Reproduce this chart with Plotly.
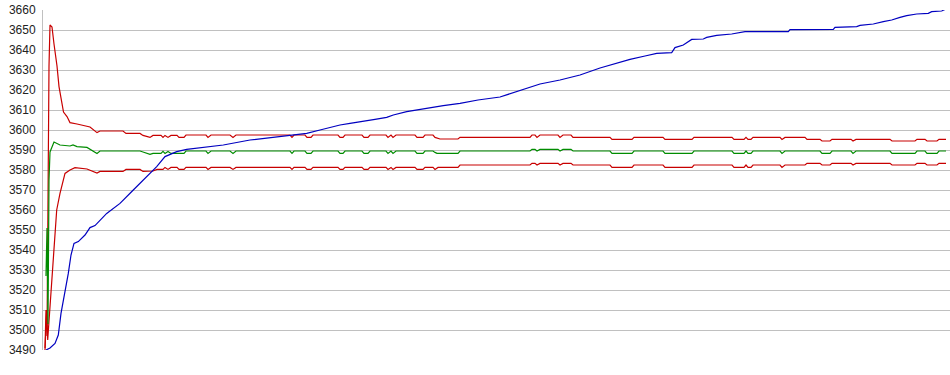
import plotly.graph_objects as go

# time-step index (sample) and values
upper_band = [(45,3491),(46,3510),(47,3497),(48,3600),(49,3632),(50,3652.5),(52,3651.5),(54,3643),(57,3632),(59,3621.7),(62,3611.7),(63.5,3609),(67,3606.7),(70,3603.7),(77,3603),(87,3602),(90,3601.5),(97,3598.7),(100,3599.5),(123,3599.5),(126,3598.3),(140,3598.3),(143,3597.3),(150,3596.3),(153,3597.3),(161,3597.3),(163,3596.3),(165,3597.3),(168,3596.3),(171,3597.3),(177,3597.3),(179,3596.3),(184,3596.3),(186,3597.5),(206,3597.5),(208,3596.3),(211,3597.5),(230,3597.5),(233,3596.3),(236,3597.5),(290,3597.5),(292,3596.3),(294,3597.5),(305,3597.5),(307,3596.3),(311,3596.3),(313,3597.5),(338,3597.5),(340,3596.3),(343,3596.3),(345,3597.5),(362,3597.5),(364,3596.3),(368,3596.3),(370,3597.5),(386,3597.5),(388,3596.3),(391,3597.5),(393,3596.3),(396,3597.5),(415,3597.5),(417,3596.3),(423,3596.3),(425,3597.5),(433,3597.5),(435,3596.3),(440,3595.5),(458,3595.5),(460,3596.3),(530,3596.3),(532,3597.5),(535,3597.5),(537,3596.3),(540,3597.5),(558,3597.5),(560,3596.3),(563,3597.5),(571,3597.5),(573,3596.3),(610,3596.3),(612,3595.3),(632,3595.3),(634,3596.3),(663,3596.3),(665,3595.3),(692,3595.3),(694,3596.3),(732,3596.3),(734,3595.3),(744,3595.3),(746,3596.3),(748,3595.3),(751,3595.3),(753,3596.3),(780,3596.3),(782,3595.3),(785,3596.3),(805,3596.3),(807,3595.3),(820,3595.3),(822,3594.5),(830,3594.5),(832,3595.3),(851,3595.3),(853,3594.5),(856,3595.3),(890,3595.3),(892,3594.5),(915,3594.5),(917,3595.3),(925,3595.3),(927,3594.5),(937,3594.5),(939,3595.3),(946,3595.3)]

middle_line = [(46,3527),(47,3551),(48,3503),(49,3575),(50,3589),(52,3592),(54,3594),(60,3592.5),(70,3592),(73,3592.5),(77,3591.7),(87,3591.3),(97,3588.3),(100,3589.5),(140,3589.5),(143,3589),(150,3587.8),(153,3588.3),(161,3588.3),(163,3589.3),(165,3588.3),(168,3589.3),(171,3588.3),(179,3588.3),(184,3588.3),(186,3589.5),(206,3589.5),(208,3588.3),(211,3589.5),(230,3589.5),(233,3588.3),(236,3589.5),(290,3589.5),(292,3588.3),(294,3589.5),(305,3589.5),(307,3588.3),(311,3588.3),(313,3589.5),(338,3589.5),(340,3588.3),(343,3588.3),(345,3589.5),(362,3589.5),(364,3588.3),(368,3588.3),(370,3589.5),(386,3589.5),(388,3588.3),(391,3589.5),(393,3588.3),(396,3589.5),(415,3589.5),(417,3588.3),(423,3588.3),(425,3589.5),(433,3589.5),(435,3588.8),(437,3588.3),(458,3588.3),(460,3589.5),(530,3589.5),(532,3590.3),(535,3590.3),(537,3589.5),(540,3590.3),(558,3590.3),(560,3589.5),(563,3590.3),(571,3590.3),(573,3589.5),(610,3589.5),(612,3588.3),(632,3588.3),(634,3589.5),(663,3589.5),(665,3588.3),(692,3588.3),(694,3589.5),(732,3589.5),(734,3588.3),(744,3588.3),(746,3589.5),(748,3588.3),(751,3588.3),(753,3589.5),(780,3589.5),(782,3588.3),(785,3589.5),(820,3589.5),(822,3588.3),(830,3588.3),(832,3589.5),(851,3589.5),(853,3588.3),(856,3589.5),(890,3589.5),(892,3588.3),(915,3588.3),(917,3589.5),(925,3589.5),(927,3588.3),(937,3588.3),(939,3589.5),(946,3589.5)]

lower_band = [(45,3490),(46.7,3510),(47.7,3495),(50,3511.7),(51.7,3521.7),(53.3,3535),(55,3550),(56.7,3560),(60,3568.3),(63.3,3575),(65,3578.3),(70,3580),(75,3581.2),(87,3580.5),(93,3579.5),(97,3578.5),(100,3579.3),(123,3579.3),(126,3580.3),(140,3580.3),(143,3579.3),(150,3579.3),(153,3579.5),(157,3580.3),(163,3580.3),(165,3581.3),(168,3580.3),(171,3581.3),(177,3581.3),(179,3580.3),(184,3580.3),(186,3581.3),(206,3581.3),(208,3580.3),(211,3581.3),(230,3581.3),(233,3580.3),(236,3581.3),(290,3581.3),(292,3580.3),(294,3581.3),(305,3581.3),(307,3580.3),(311,3580.3),(313,3581.3),(338,3581.3),(340,3580.3),(343,3580.3),(345,3581.3),(362,3581.3),(364,3580.3),(368,3580.3),(370,3581.3),(386,3581.3),(388,3580.3),(391,3581.3),(393,3580.3),(396,3581.3),(415,3581.3),(417,3580.3),(423,3580.3),(425,3581.3),(433,3581.3),(435,3580.3),(438,3581.3),(458,3581.3),(460,3582.5),(530,3582.5),(532,3583.3),(535,3583.3),(537,3582.5),(540,3583.3),(558,3583.3),(560,3582.5),(563,3583.3),(571,3583.3),(573,3582.5),(610,3582.5),(612,3581.3),(632,3581.3),(634,3582.5),(663,3582.5),(665,3581.3),(692,3581.3),(694,3582.5),(732,3582.5),(734,3581.3),(744,3581.3),(746,3582.5),(748,3581.3),(751,3581.3),(753,3582.5),(780,3582.5),(782,3581.3),(785,3582.5),(805,3582.5),(807,3583.3),(820,3583.3),(822,3582.5),(830,3582.5),(832,3583.3),(851,3583.3),(853,3582.5),(856,3583.3),(890,3583.3),(892,3582.5),(915,3582.5),(917,3583.3),(925,3583.3),(927,3582.5),(937,3582.5),(939,3583.3),(946,3583.3)]

price_line = [(46,3490),(50,3491),(55,3493.3),(58.3,3497.5),(61,3508.3),(65,3518.3),(68.3,3528.3),(71,3537.5),(74,3543.3),(78.3,3544.2),(85,3547.5),(90,3551.2),(95,3552.2),(106.7,3558.3),(120,3563.3),(133.3,3570),(146.7,3576.7),(156.7,3581.7),(165,3586.7),(176.7,3589.2),(186.7,3590.3),(203.3,3591.3),(223.3,3592.5),(250,3595),(273.3,3596.3),(293.3,3597.5),(306.7,3598.3),(320,3600),(340,3602.5),(350,3603.3),(363.3,3604.2),(375,3605.3),(386.7,3606.3),(393.3,3607.5),(406.7,3609.2),(420,3610.3),(430,3611.3),(443.3,3612.2),(460,3613.3),(470,3614.2),(478,3615),(500,3616.5),(540,3623),(560,3625),(580,3627.5),(600,3631),(620,3634),(630,3635.3),(645,3637),(656.7,3638.3),(671.7,3638.7),(675,3641.2),(683.3,3642.5),(691.7,3645.3),(703.3,3645.5),(706.7,3646.3),(716.7,3647.3),(731.7,3648),(745,3649.2),(788.3,3649.2),(790,3650.2),(833.3,3650.3),(835,3651.3),(856.7,3651.7),(860,3652.3),(873.3,3653),(883.3,3654.2),(891.7,3655),(900,3656.3),(906.7,3657.2),(916.7,3658),(928.3,3658.3),(931.7,3659.2),(941.7,3659.5),(945,3660.3)]

y_ticks = list(range(3490, 3661, 10))

series = [
    ("upper", upper_band, "#C80000"),
    ("lower", lower_band, "#C80000"),
    ("middle", middle_line, "#008C00"),
    ("price", price_line, "#0000C0"),
]

fig = go.Figure()
for name, pts, color in series:
    xs = [p[0] for p in pts]
    ys = [p[1] for p in pts]
    fig.add_trace(go.Scatter(x=xs, y=ys, mode="lines", name=name,
                             line=dict(color=color, width=1.2),
                             hoverinfo="skip"))

fig.update_layout(
    width=950, height=375,
    margin=dict(l=43, r=0, t=10, b=25),
    paper_bgcolor="white", plot_bgcolor="white",
    showlegend=False,
    font=dict(family="Liberation Sans, Arial, sans-serif", size=12, color="#222222"),
)
fig.update_xaxes(range=[43, 950], showgrid=False, showticklabels=False,
                 zeroline=False, showline=False, ticks="")
fig.update_yaxes(range=[3490, 3660], tickvals=y_ticks,
                 ticktext=[str(v) for v in y_ticks],
                 showgrid=True, gridcolor="#C0C0C0", gridwidth=1,
                 zeroline=False, showline=True, linecolor="#C0C0C0", linewidth=1,
                 ticks="", ticklabelstandoff=4,
                 tickfont=dict(family="Liberation Sans, Arial, sans-serif", size=12, color="#222222"))

fig.write_html("out.html")
